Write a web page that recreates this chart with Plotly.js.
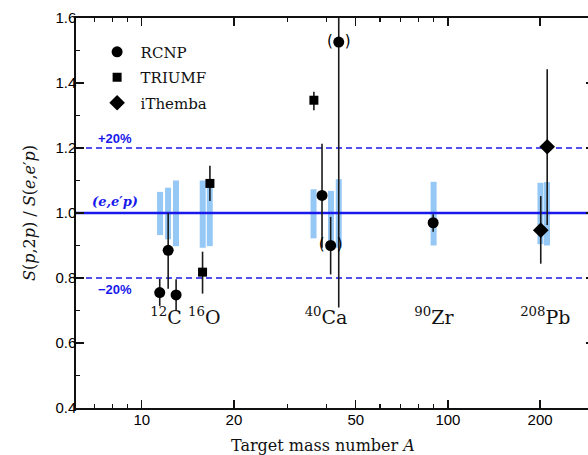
<!DOCTYPE html>
<html><head><meta charset="utf-8">
<script src="https://cdn.plot.ly/plotly-3.0.1.min.js"></script>
<style>html,body{margin:0;padding:0;overflow:hidden;background:#fff}#c{width:600px;height:455px}</style>
</head><body><div id="c"></div>
<script>
// ---- data ----
const rcnpA   = [11.45, 12.2, 12.95, 38.8, 41.4, 44.0, 89.5];
const rcnpVal = [0.755, 0.885, 0.748, 1.054, 0.900, 1.526, 0.970];
const rcnpHi  = [0.797, 1.000, 0.796, 1.213, 0.988, 1.750, 0.996];
const rcnpLo  = [0.714, 0.767, 0.700, 0.893, 0.811, 0.709, 0.942];
const rcnpBracketed = [false, false, false, false, true, true, false];

const triumfA   = [15.8, 16.7, 36.5];
const triumfVal = [0.818, 1.091, 1.347];
const triumfHi  = [0.881, 1.145, 1.373];
const triumfLo  = [0.752, 1.037, 1.316];

const ithembaA   = [201, 211];
const ithembaVal = [0.947, 1.204];
const ithembaHi  = [1.052, 1.442];
const ithembaLo  = [0.844, 0.963];

// theory-uncertainty bands (light blue)
const bandA  = [11.48, 12.19, 12.94, 15.82, 16.68, 36.4, 41.5, 44.0, 89.8, 200.6, 210.7];
const bandLo = [0.932, 0.919, 0.898, 0.893, 0.898, 0.922, 0.893, 0.893, 0.900, 0.904, 0.900];
const bandHi = [1.065, 1.078, 1.100, 1.100, 1.100, 1.073, 1.068, 1.104, 1.096, 1.093, 1.095];

const nucleusA     = [12, 16, 40, 90, 208];
const nucleusLabel = ['<sup>12</sup>C', '<sup>16</sup>O', '<sup>40</sup>Ca', '<sup>90</sup>Zr', '<sup>208</sup>Pb'];

const refValue = 1.0, plus20 = 1.2, minus20 = 0.8;
const xTickVals = [10, 20, 50, 100, 200];
const xMinorVals = [7, 8, 9, 30, 40, 60, 70, 80, 90, 300];

// ---- build ----
const xRange = [6.1, 300];
const blueLine = 'rgb(25,25,235)';
const bandColor = 'rgb(150,200,245)';

function segs(xs, lo, hi){
  const x=[], y=[];
  xs.forEach((a,i)=>{ x.push(a,a,null); y.push(lo[i],hi[i],null); });
  return {x,y};
}
const b = segs(bandA, bandLo, bandHi);

function errs(val, hi, lo){
  return {type:'data', symmetric:false,
    array: val.map((v,i)=>hi[i]-v), arrayminus: val.map((v,i)=>v-lo[i]),
    color:'#1a1a1a', thickness:1.6, width:0};
}
const brA = rcnpA.filter((a,i)=>rcnpBracketed[i]);
const brV = rcnpVal.filter((a,i)=>rcnpBracketed[i]);

const traces = [
  {x:b.x, y:b.y, mode:'lines', line:{color:bandColor, width:6}, showlegend:false, hoverinfo:'skip'},
  {x:xRange, y:[refValue, refValue], mode:'lines', line:{color:blueLine, width:2.6}, showlegend:false},
  {x:xRange, y:[plus20, plus20], mode:'lines', line:{color:blueLine, width:1.4, dash:'6px,4px'}, showlegend:false},
  {x:xRange, y:[minus20, minus20], mode:'lines', line:{color:blueLine, width:1.4, dash:'6px,4px'}, showlegend:false},
  {x:rcnpA, y:rcnpVal, mode:'markers', error_y:errs(rcnpVal,rcnpHi,rcnpLo),
   marker:{symbol:'circle', size:11, color:'#000'}, showlegend:false},
  {x:brA, y:brV, mode:'markers+text', text:brA.map(()=>'('), textposition:'middle left',
   marker:{size:8, color:'rgba(0,0,0,0)'},
   textfont:{family:'DejaVu Sans', size:15, color:'#000'}, showlegend:false},
  {x:brA, y:brV, mode:'markers+text', text:brA.map(()=>')'), textposition:'middle right',
   marker:{size:8, color:'rgba(0,0,0,0)'},
   textfont:{family:'DejaVu Sans', size:15, color:'#000'}, showlegend:false},
  {x:triumfA, y:triumfVal, mode:'markers', error_y:errs(triumfVal,triumfHi,triumfLo),
   marker:{symbol:'square', size:9, color:'#000'}, showlegend:false},
  {x:ithembaA, y:ithembaVal, mode:'markers', error_y:errs(ithembaVal,ithembaHi,ithembaLo),
   marker:{symbol:'diamond', size:12, color:'#000'}, showlegend:false},
  {x:nucleusA, y:nucleusA.map(()=>0.672), mode:'text', text:nucleusLabel,
   textfont:{family:'DejaVu Serif', size:19, color:'#111'}, showlegend:false},
  // legend entries
  {x:[null], y:[null], mode:'markers', name:'RCNP', legendgroup:'a', marker:{symbol:'circle', size:11, color:'#000'}},
  {x:[null], y:[null], mode:'markers', name:'TRIUMF', legendgroup:'b', marker:{symbol:'square', size:9, color:'#000'}},
  {x:[null], y:[null], mode:'markers', name:'iThemba', legendgroup:'c', marker:{symbol:'diamond', size:12, color:'#000'}}
];

const tickFont = {family:'Liberation Sans, Arial', size:15, color:'#000'};
const layout = {
  width:600, height:455,
  margin:{l:76, r:6, t:18, b:47},
  paper_bgcolor:'#fff', plot_bgcolor:'#fff',
  showlegend:true,
  legend:{x:0.034, y:0.955, xanchor:'left', yanchor:'top', bgcolor:'rgba(0,0,0,0)',
          font:{family:'DejaVu Serif', size:15, color:'#111'}, tracegroupgap:3, itemwidth:37},
  xaxis:{type:'log', range:xRange.map(Math.log10), tickmode:'array', tickvals:xTickVals,
         ticktext:xTickVals.map(String), ticks:'inside', ticklen:8, tickwidth:1.3, tickcolor:'#111',
         showline:true, linecolor:'#111', linewidth:1.6, mirror:'allticks', showgrid:false, zeroline:false,
         tickfont:tickFont, ticklabelstandoff:-3,
         minor:{tickmode:'array', tickvals:xMinorVals, ticks:'inside', ticklen:4, tickwidth:1.1, tickcolor:'#111', showgrid:false}},
  yaxis:{range:[0.4,1.6], tickmode:'linear', tick0:0.4, dtick:0.2, tickformat:'.1f',
         ticks:'inside', ticklen:8, tickwidth:1.3, tickcolor:'#111',
         showline:true, linecolor:'#111', linewidth:1.6, mirror:'allticks', showgrid:false, zeroline:false,
         tickfont:tickFont, ticklabelstandoff:-5,
         minor:{dtick:0.1, ticks:'inside', ticklen:4, tickwidth:1.1, tickcolor:'#111', showgrid:false},
         title:{text:'<i>S</i>(<i>p</i>,2<i>p</i>) / <i>S</i>(<i>e</i>,<i>e</i>\u2032<i>p</i>)',
                font:{family:'DejaVu Serif', size:16, color:'#111'}, standoff:16}},
  annotations:[
    {xref:'paper', yref:'paper', x:0.477, y:-0.095, xanchor:'center', yanchor:'middle', showarrow:false,
     text:'Target mass number <i>A</i>', font:{family:'DejaVu Serif', size:16, color:'#111'}},
    {xref:'paper', yref:'y', x:0.075, y:plus20, yshift:10, xanchor:'center', yanchor:'middle', showarrow:false,
     text:'<b>+20%</b>', font:{family:'Liberation Sans, Arial', size:13, color:blueLine}},
    {xref:'paper', yref:'y', x:0.075, y:refValue, yshift:12, xanchor:'center', yanchor:'middle', showarrow:false,
     text:'<b><i>(e,e\u2032p)</i></b>', font:{family:'DejaVu Serif', size:13, color:blueLine}},
    {xref:'paper', yref:'y', x:0.075, y:minus20, yshift:-11, xanchor:'center', yanchor:'middle', showarrow:false,
     text:'<b>\u221220%</b>', font:{family:'Liberation Sans, Arial', size:13, color:blueLine}}
  ]
};
Plotly.newPlot('c', traces, layout, {displayModeBar:false, staticPlot:true});
</script></body></html>
